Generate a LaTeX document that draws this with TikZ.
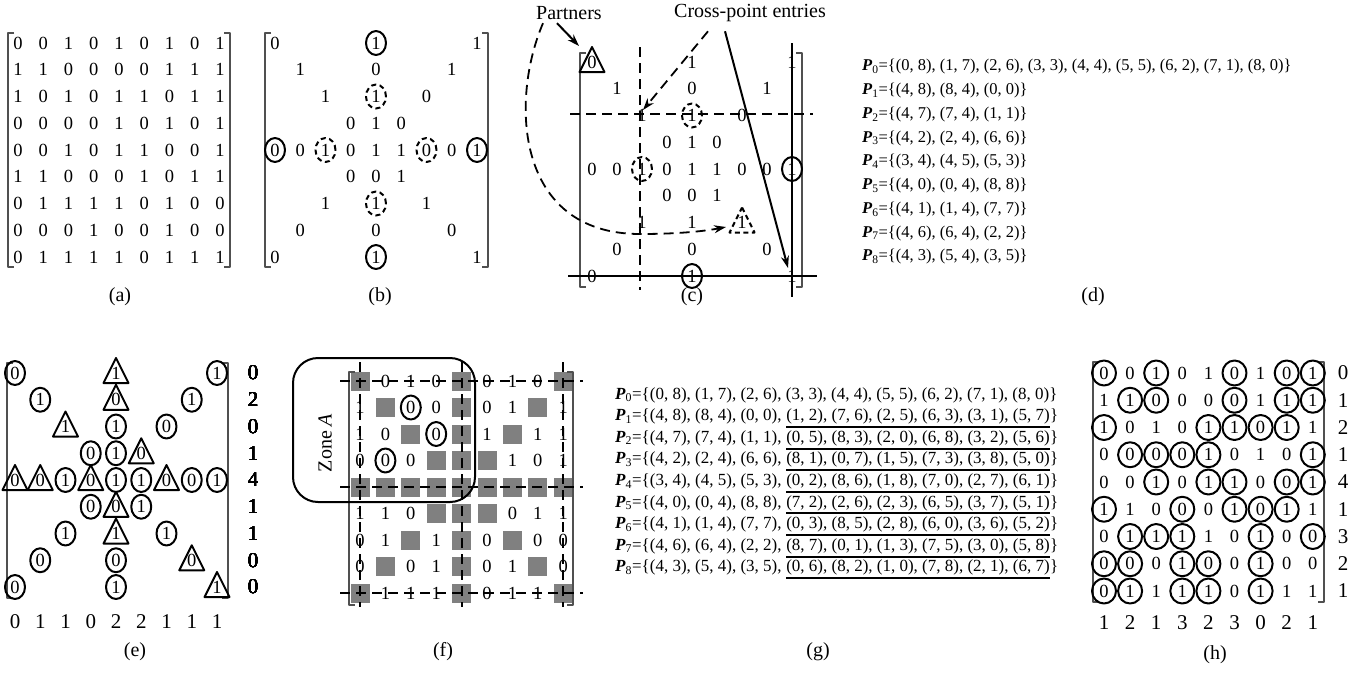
\documentclass[tikz,border=0pt]{standalone}
\usepackage{fontspec}
\setmainfont{Liberation Serif}
\usetikzlibrary{arrows.meta}

\definecolor{cbGray}{HTML}{808080}
\definecolor{cbDark}{HTML}{505050}

% Matriz binaria 9x9 usada em todos os quadros.
\newcommand{\matrizA}{{0,0,1,0,1,0,1,0,1},{1,1,0,0,0,0,1,1,1},{1,0,1,0,1,1,0,1,1},{0,0,0,0,1,0,1,0,1},{0,0,1,0,1,1,0,0,1},{1,1,0,0,0,1,0,1,1},{0,1,1,1,1,0,1,0,0},{0,0,0,1,0,0,1,0,0},{0,1,1,1,1,0,1,1,1}}

% Triangulo em volta de uma entrada.
\newcommand{\triang}[2][]{\draw[marca,#1,shift={(#2.center)}] (0,-15) -- (12.5,10) -- (-12.5,10) -- cycle;}

% Colchetes: x esquerdo, x direito, y topo, y base.
\newcommand{\colchetes}[4]{%
  \draw[colchete] (#1+6,#3) -| (#1,#4) -- (#1+6,#4);
  \draw[colchete] (#2-6,#3) -| (#2,#4) -- (#2-6,#4);}

\begin{document}
\begin{tikzpicture}[x=1pt, y=-1pt, line join=round,
        every node/.style={font=\fontsize{18.5}{20}\selectfont},
        dig/.style={inner sep=0pt},
        marca/.style={line width=2pt},
        tracejada/.style={marca, dash pattern=on 5pt off 3.5pt},
        grade/.style={line width=2pt, dash pattern=on 10pt off 6pt},
        colchete/.style={cbDark, line width=1.1pt},
        quadrado/.style={fill=cbGray, minimum size=19pt, inner sep=0pt},
        texto/.style={font=\fontsize{17}{20}\selectfont, inner sep=0pt},
        rotulo/.style={font=\fontsize{20}{24}\selectfont},
        soma/.style={font=\fontsize{21}{24}\selectfont},
        >={Stealth[length=12pt, width=8pt]}]
        \useasboundingbox (0,0) rectangle (1370,673);

        % (a) Matriz completa.
        \foreach \linha [count=\r from 0] in \matrizA
            \foreach \v [count=\c from 0] in \linha
                \node[dig] (a-\r-\c) at (18+25.25*\c, 43+26.75*\r) {\v};
        \colchetes{8}{230}{33}{267}

        % (b), (c) e (e): so as diagonais, a linha e a coluna centrais.
        \foreach \p/\x/\y/\dx/\dy in {b/275/43/25.25/26.75, c/592/62/25/26.75, e/15/373/25.25/26.75}
            \foreach \linha [count=\r from 0] in \matrizA
                \foreach \v [count=\c from 0] in \linha {
                    \pgfmathtruncatemacro\cruz{(\c==\r)||(\c==8-\r)||(\c==4)||(\r==4)}
                    \ifnum\cruz=1 \node[dig] (\p-\r-\c) at (\x+\dx*\c, \y+\dy*\r) {\v}; \fi
                }

        % Marcas de (b).
        \colchetes{265}{488}{33}{267}
        \foreach \pos in {0-4, 4-0, 4-8, 8-4}
            \draw[marca] (b-\pos.center) ellipse (10pt and 12pt);
        \foreach \pos in {2-4, 4-2, 4-6, 6-4}
            \draw[tracejada] (b-\pos.center) ellipse (10pt and 12pt);

        % Marcas e linhas de (c).
        \colchetes{580}{802}{53}{287}
        \triang{c-0-0}
        \triang[tracejada]{c-6-6}
        \foreach \pos in {2-4, 4-2}
            \draw[tracejada] (c-\pos.center) ellipse (10pt and 12pt);
        \foreach \pos in {4-8, 8-4}
            \draw[marca] (c-\pos.center) ellipse (10pt and 12pt);
        \draw[grade] (640,47) -- (640,290);
        \draw[grade] (570,114) -- (813,114);
        \draw[line width=2pt] (792,43) -- (792,297);
        \draw[line width=2pt] (568,276) -- (817,276);

        \node[rotulo] (parceiros) at (569,13) {Partners};
        \node[rotulo] (cruzamento) at (750,13) {Cross-point entries};
        \coordinate (pontaP) at (579,46);
        \coordinate (pontaT) at (726,227);
        \coordinate (cruzA) at (643,110);
        \coordinate (cruzB) at (788,268);
        \draw[marca, ->] ([xshift=-12pt]parceiros.south) -- (pontaP);
        \draw[grade, line width=1.8pt, ->] ([xshift=-26pt]parceiros.south)
            .. controls (510,100) and (515,234) .. (640,234)
            .. controls (680,234) and (705,231) .. (pontaT);
        \draw[grade, line width=1.8pt, ->] ([xshift=-42pt, yshift=-6pt]cruzamento.south) -- (cruzA);
        \draw[marca, ->] ([xshift=-25pt, yshift=-6pt]cruzamento.south) -- (cruzB);

        % (d) Conjuntos de parceiros.
        \foreach \txt [count=\i from 0] in {{(0, 8), (1, 7), (2, 6), (3, 3), (4, 4), (5, 5), (6, 2), (7, 1), (8, 0)},
                {(4, 8), (8, 4), (0, 0)}, {(4, 7), (7, 4), (1, 1)}, {(4, 2), (2, 4), (6, 6)},
                {(3, 4), (4, 5), (5, 3)}, {(4, 0), (0, 4), (8, 8)}, {(4, 1), (1, 4), (7, 7)},
                {(4, 6), (6, 4), (2, 2)}, {(4, 3), (5, 4), (3, 5)}}
            \node[texto, font=\fontsize{16.5}{20}\selectfont, anchor=west] (d-\i) at (862, 67+23.75*\i)
                {\textbf{\textit{P}}\textsubscript{\i}=\{\txt\}};

        % Marcas de (e).
        \colchetes{7}{228}{363}{598}
        \foreach \pos in {0-0, 0-8, 1-1, 1-7, 2-4, 2-6, 3-3, 3-4, 4-2, 4-4, 4-5, 4-7, 4-8,
                5-3, 5-5, 6-2, 6-6, 7-1, 7-4, 8-0, 8-4}
            \draw[marca] (e-\pos.center) ellipse (10pt and 12pt);
        \foreach \pos in {0-4, 1-4, 2-2, 3-5, 4-0, 4-1, 4-3, 4-6, 5-4, 6-4, 7-7, 8-8}
            \triang{e-\pos}
        \foreach \s [count=\r from 0] in {0,2,0,1,4,1,1,0,0}
            \node[soma] (e-l\r) at (253, 373+26.75*\r) {\s};
        \foreach \s [count=\c from 0] in {0,1,1,0,2,2,1,1,1}
            \node[soma] (e-s\c) at (15+25.25*\c, 622) {\s};

        % (f) Entradas fixas em cinza e zona A.
        \foreach \linha [count=\r from 0] in \matrizA
            \foreach \v [count=\c from 0] in \linha {
                \pgfmathtruncatemacro\cruz{(\c==\r)||(\c==8-\r)||(\c==4)||(\r==4)}
                \ifnum\cruz=1 \node[quadrado] (f-\r-\c) at (360+25.4*\c, 381+26.5*\r) {};
                \else \node[dig] (f-\r-\c) at (360+25.4*\c, 381+26.5*\r) {\v}; \fi
            }
        \colchetes{349}{573}{372}{605}
        \foreach \pos in {1-2, 2-3, 3-1}
            \draw[marca] (f-\pos.center) ellipse (10pt and 12pt);
        \foreach \k in {0,4,8} {
            \draw[grade] (340, 381+26.5*\k) -- (583, 381+26.5*\k);
            \draw[grade] (360+25.4*\k, 362) -- (360+25.4*\k, 607);
        }
        \draw[marca, rounded corners=25pt] (293,358) rectangle (475,502);
        \node[rotulo, rotate=90] (zonaA) at (325,443) {Zone \textit{A}};

        % (g) Conjuntos completos, com a parte nova sublinhada.
        \node[texto, anchor=west] (g-0) at (615,395)
            {\textbf{\textit{P}}\textsubscript{0}=\{(0, 8), (1, 7), (2, 6), (3, 3), (4, 4), (5, 5), (6, 2), (7, 1), (8, 0)\}};
        \foreach \cab/\sub [count=\i from 1] in {
                {(4, 8), (8, 4), (0, 0)}/{(1, 2), (7, 6), (2, 5), (6, 3), (3, 1), (5, 7)},
                {(4, 7), (7, 4), (1, 1)}/{(0, 5), (8, 3), (2, 0), (6, 8), (3, 2), (5, 6)},
                {(4, 2), (2, 4), (6, 6)}/{(8, 1), (0, 7), (1, 5), (7, 3), (3, 8), (5, 0)},
                {(3, 4), (4, 5), (5, 3)}/{(0, 2), (8, 6), (1, 8), (7, 0), (2, 7), (6, 1)},
                {(4, 0), (0, 4), (8, 8)}/{(7, 2), (2, 6), (2, 3), (6, 5), (3, 7), (5, 1)},
                {(4, 1), (1, 4), (7, 7)}/{(0, 3), (8, 5), (2, 8), (6, 0), (3, 6), (5, 2)},
                {(4, 6), (6, 4), (2, 2)}/{(8, 7), (0, 1), (1, 3), (7, 5), (3, 0), (5, 8)},
                {(4, 3), (5, 4), (3, 5)}/{(0, 6), (8, 2), (1, 0), (7, 8), (2, 1), (6, 7)}} {
            \node[texto, anchor=west] (g-\i) at (615, 395+21.6*\i)
                {\textbf{\textit{P}}\textsubscript{\i}=\{\cab,};
            \node[texto, anchor=base west] (gs-\i) at ([xshift=4.25pt]g-\i.base east) {\sub};
            \node[texto, anchor=base west] (gf-\i) at (gs-\i.base east) {\}};
            \draw[line width=2pt] ([yshift=-2.5pt]gs-\i.south west) -- ([yshift=-2.5pt]gs-\i.south east);
        }

        % (h) Matriz completa com as entradas escolhidas.
        \foreach \linha [count=\r from 0] in \matrizA
            \foreach \v [count=\c from 0] in \linha
                \node[dig] (h-\r-\c) at (1104+26.1*\c, 373+27.25*\r) {\v};
        \colchetes{1093}{1324}{362}{602}
        \foreach \r/\cols in {0/{0,2,5,7,8}, 1/{1,2,5,7,8}, 2/{0,4,5,6,7}, 3/{1,2,3,4,8},
                4/{2,4,5,7,8}, 5/{0,3,5,6,7}, 6/{1,2,3,6,8}, 7/{0,1,3,4,6}, 8/{0,1,3,4,6}}
            \foreach \c in \cols
                \draw[marca] (h-\r-\c.center) ellipse (12pt and 12.5pt);
        \foreach \s [count=\r from 0] in {0,1,2,1,4,1,3,2,1}
            \node[soma] (h-l\r) at (1343, 373+27.25*\r) {\s};
        \foreach \s [count=\c from 0] in {1,2,1,3,2,3,0,2,1}
            \node[soma] (h-s\c) at (1104+26.1*\c, 623) {\s};

        % Legendas dos quadros.
        \node[rotulo] (la) at (120,297) {(a)};
        \node[rotulo] (lb) at (380,297) {(b)};
        \node[rotulo] (lc) at (692,297) {(c)};
        \node[rotulo] (ld) at (1093,297) {(d)};
        \node[rotulo] (le) at (135,652) {(e)};
        \node[rotulo] (lf) at (443,652) {(f)};
        \node[rotulo] (lg) at (818,652) {(g)};
        \node[rotulo] (lh) at (1215,655) {(h)};
    \end{tikzpicture}
\end{document}
